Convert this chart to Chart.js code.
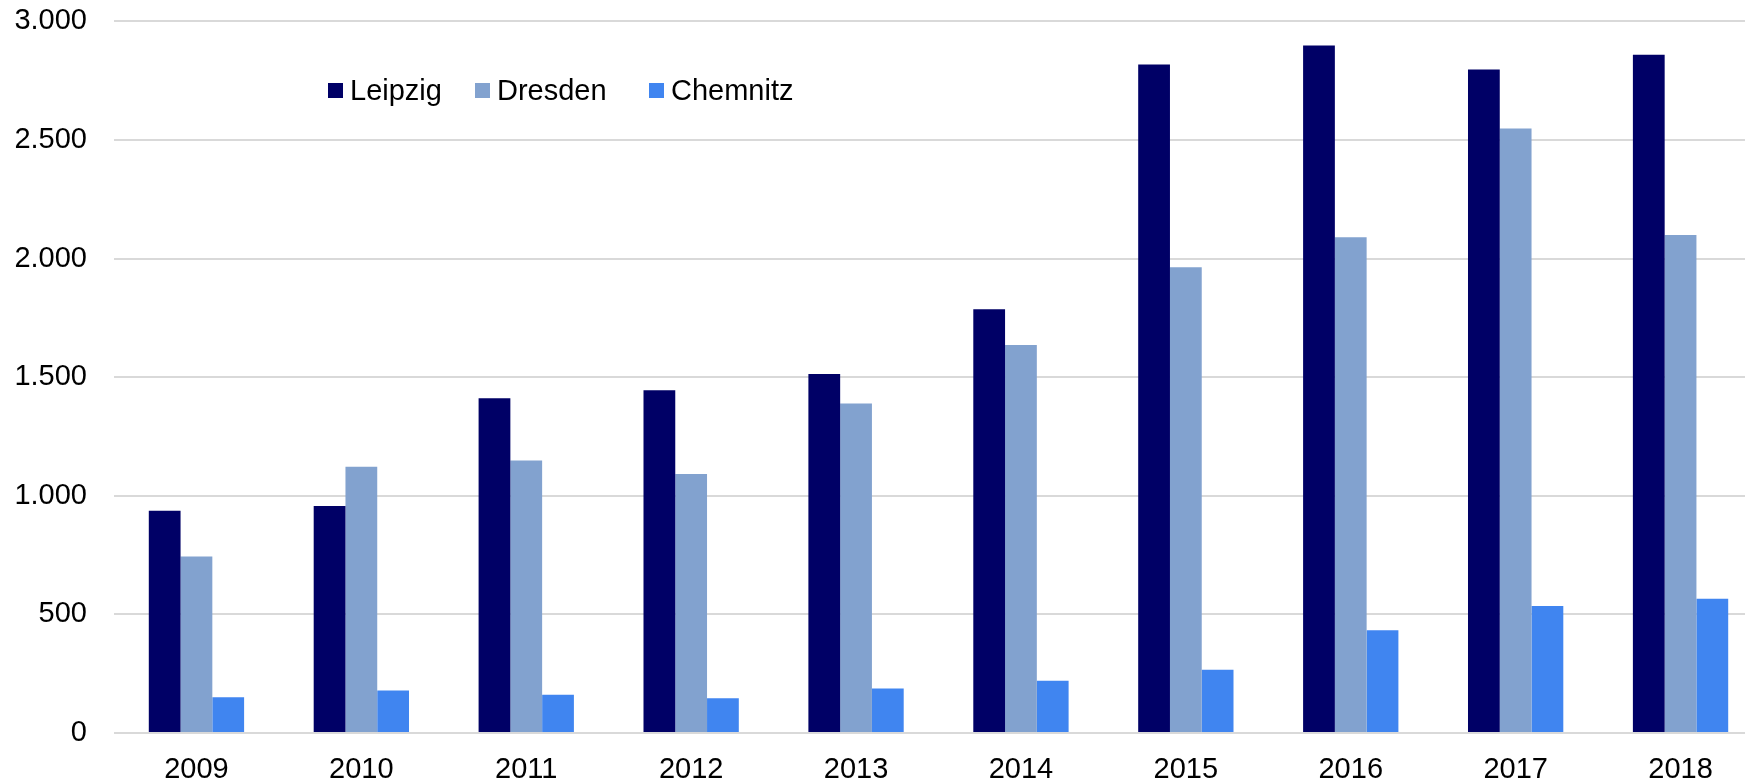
<!DOCTYPE html>
<html>
<head>
<meta charset="utf-8">
<script src="https://cdn.jsdelivr.net/npm/chart.js@4/dist/chart.umd.min.js"></script>
<style>
  html, body { margin: 0; padding: 0; background: #ffffff; overflow: hidden; }
  #wrap { width: 1763px; height: 781px; overflow: hidden; }
  #c { display: block; margin-top: -23px; }
</style>
</head>
<body>
<div id="wrap"><canvas id="c" width="1763" height="804"></canvas></div>
<script>
const years = ["2009", "2010", "2011", "2012", "2013", "2014", "2015", "2016", "2017", "2018"];
const seriesNames = ["Leipzig", "Dresden", "Chemnitz"];
const leipzig  = [937, 957, 1411, 1445, 1514, 1786, 2818, 2898, 2797, 2859];
const dresden  = [744, 1122, 1149, 1092, 1389, 1636, 1964, 2090, 2549, 2100];
const chemnitz = [151, 179, 161, 146, 188, 220, 267, 433, 535, 566];
const yTicks = [0, 500, 1000, 1500, 2000, 2500, 3000];

const colors = ["#000066", "#82a2cf", "#4085f0"];
const FONT = "'Liberation Sans', Arial, sans-serif";

function fmtDE(v) {
  return String(v).replace(/\B(?=(\d{3})+(?!\d))/g, ".");
}

const legendPlugin = {
  id: 'insideLegend',
  afterDraw(chart) {
    const ctx = chart.ctx;
    const starts = [328, 475, 649];
    const boxY = 83 + 23, box = 15;
    ctx.save();
    ctx.font = "29px " + FONT;
    ctx.textBaseline = 'middle';
    ctx.textAlign = 'left';
    chart.data.datasets.forEach((ds, i) => {
      const x = starts[i];
      ctx.fillStyle = ds.backgroundColor;
      ctx.fillRect(x, boxY, box, box);
      ctx.fillStyle = '#000000';
      ctx.fillText(ds.label, x + box + 7, boxY + box / 2 + 1);
    });
    ctx.restore();
  }
};

new Chart(document.getElementById('c'), {
  type: 'bar',
  data: {
    labels: years,
    datasets: [
      { label: seriesNames[0], data: leipzig,  backgroundColor: colors[0] },
      { label: seriesNames[1], data: dresden,  backgroundColor: colors[1] },
      { label: seriesNames[2], data: chemnitz, backgroundColor: colors[2] }
    ]
  },
  options: {
    responsive: false,
    animation: false,
    devicePixelRatio: 1,
    layout: { padding: { top: 0, right: 0, bottom: 0, left: 0 } },
    datasets: {
      bar: { categoryPercentage: 0.578, barPercentage: 1.0, borderWidth: 0 }
    },
    plugins: {
      legend: { display: false },
      tooltip: { enabled: false }
    },
    scales: {
      x: {
        grid: { display: false, drawTicks: false },
        border: { display: false },
        ticks: { color: '#000000', font: { family: FONT, size: 29 }, padding: 20, maxRotation: 0 },
        afterFit(scale) { scale.height = 48; }
      },
      y: {
        min: 0,
        max: 3000,
        afterBuildTicks(scale) { scale.ticks = yTicks.map(v => ({ value: v })); },
        grid: { color: '#d9d9d9', lineWidth: 2, drawTicks: false },
        border: { display: false },
        ticks: {
          color: '#000000',
          font: { family: FONT, size: 29 },
          padding: 27,
          callback: (v) => fmtDE(v)
        },
        afterFit(scale) { scale.width = 114; }
      }
    }
  },
  plugins: [legendPlugin]
});
</script>
</body>
</html>
